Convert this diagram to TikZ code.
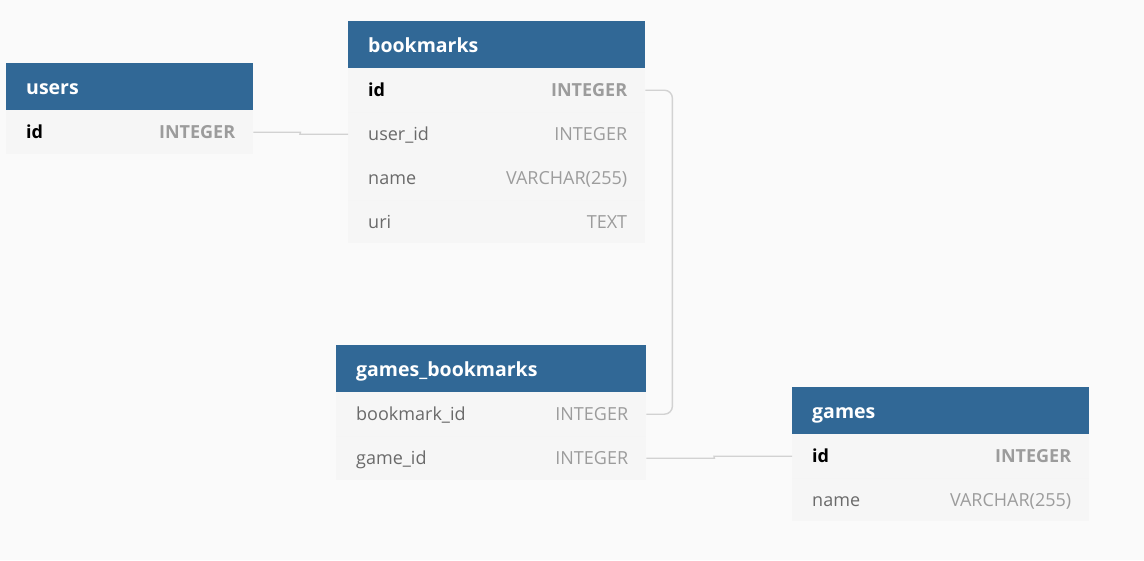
\documentclass[tikz,border=0pt]{standalone}
\usepackage{fontspec}
\setmainfont{Open Sans}
\usetikzlibrary{positioning,calc}
\definecolor{bgcol}{HTML}{FAFAFA}
\definecolor{hdblue}{HTML}{316896}
\definecolor{rowcol}{HTML}{F6F6F6}
\definecolor{namecol}{HTML}{6A6A6A}
\definecolor{typecol}{HTML}{9C9C9C}
\definecolor{linkcol}{HTML}{D2D2D2}
\tikzset{
  tblhead/.style={fill=hdblue, text=white, anchor=north west, inner xsep=20pt, inner ysep=0pt,
    minimum height=47pt, align=left, text height=17pt, text depth=1.5pt,
    font=\fontsize{19.5}{22}\selectfont\bfseries},
  tblrow/.style={fill=rowcol, text=namecol, anchor=north west, inner xsep=20pt, inner ysep=0pt,
    minimum height=44pt, align=left, text height=15pt, text depth=2pt,
    font=\fontsize{18}{21}\selectfont},
  keyrow/.style={tblrow, text=black, font=\fontsize{18}{21}\selectfont\bfseries},
  coltype/.style={anchor=east, text=typecol, inner sep=0pt, text height=15pt, text depth=2pt,
    font=\fontsize{18}{21}\selectfont},
  keytype/.style={coltype, font=\fontsize{18}{21}\selectfont\bfseries},
  link/.style={draw=linkcol, line width=1.4pt}
}
\begin{document}
\begin{tikzpicture}[x=1pt,y=-1pt]
\fill[bgcol] (0,0) rectangle (1144,560);
\useasboundingbox (0,0) rectangle (1144,560);

% users
\node[tblhead, text width=207pt] (users) at (6,63) {users};
\node[keyrow, text width=207pt] (users-id) at (6,110) {id};
\node[keytype] (users-id-t) at ([xshift=-18pt]users-id.east) {INTEGER};

% bookmarks
\node[tblhead, text width=257pt] (bm) at (348,21) {bookmarks};
\node[keyrow, text width=257pt] (bm-id) at (348,68) {id};
\node[keytype] (bm-id-t) at ([xshift=-18pt]bm-id.east) {INTEGER};
\node[tblrow, text width=257pt] (bm-userid) at (348,112) {user\_id};
\node[coltype] (bm-userid-t) at ([xshift=-18pt]bm-userid.east) {INTEGER};
\node[tblrow, text width=257pt] (bm-name) at (348,156) {name};
\node[coltype] (bm-name-t) at ([xshift=-18pt]bm-name.east) {VARCHAR(255)};
\node[tblrow, text width=257pt, minimum height=43pt] (bm-uri) at (348,200) {uri};
\node[coltype] (bm-uri-t) at ([xshift=-18pt]bm-uri.east) {TEXT};

% games_bookmarks
\node[tblhead, text width=270pt] (gb) at (336,345) {games\_bookmarks};
\node[tblrow, text width=270pt] (gb-bmid) at (336,392) {bookmark\_id};
\node[coltype] (gb-bmid-t) at ([xshift=-18pt]gb-bmid.east) {INTEGER};
\node[tblrow, text width=270pt] (gb-gameid) at (336,436) {game\_id};
\node[coltype] (gb-gameid-t) at ([xshift=-18pt]gb-gameid.east) {INTEGER};

% games
\node[tblhead, text width=257pt] (games) at (792,387) {games};
\node[keyrow, text width=257pt] (games-id) at (792,434) {id};
\node[keytype] (games-id-t) at ([xshift=-18pt]games-id.east) {INTEGER};
\node[tblrow, text width=257pt, minimum height=43pt] (games-name) at (792,478) {name};
\node[coltype] (games-name-t) at ([xshift=-18pt]games-name.east) {VARCHAR(255)};

% row separators
\draw[white!96!black, line width=0.6pt] (bm-userid.north west) -- (bm-userid.north east);
\draw[white!96!black, line width=0.6pt] (bm-uri.north west) -- (bm-uri.north east);
\draw[white!96!black, line width=0.6pt] (gb-gameid.north west) -- (gb-gameid.north east);
\draw[white!96!black, line width=0.6pt] (games-name.north west) -- (games-name.north east);

% links
\draw[link] (users-id.east) -- ([xshift=47pt]users-id.east) -- ([xshift=-48pt]bm-userid.west) -- (bm-userid.west);
\draw[link, rounded corners=8pt] (bm-id.east) -- ([xshift=27pt]bm-id.east) |- (gb-bmid.east);
\draw[link] (gb-gameid.east) -- ([xshift=68pt]gb-gameid.east) -- ([xshift=-78pt]games-id.west) -- (games-id.west);
\end{tikzpicture}
\end{document}
